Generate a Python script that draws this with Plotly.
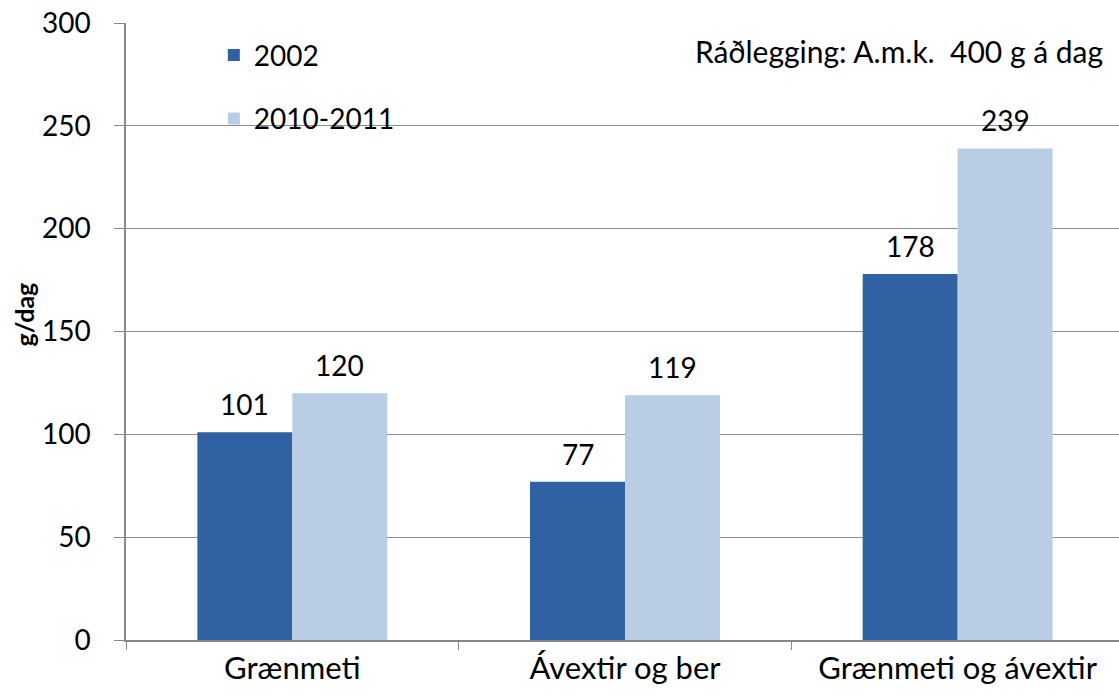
import plotly.graph_objects as go

categories = ["Grænmeti", "Ávextir og ber", "Grænmeti og ávextir"]
values_2002 = [101, 77, 178]
values_2010 = [120, 119, 239]
series_names = ["2002", "2010-2011"]
y_ticks = [0, 50, 100, 150, 200, 250, 300]

FONT = "Lato, 'Open Sans', sans-serif"

fig = go.Figure()
fig.add_trace(go.Bar(
    x=categories, y=values_2002, name=series_names[0],
    marker=dict(color="#2f61a3", line=dict(width=0)),
    offsetgroup="a", legendgroup="a",
))
fig.add_trace(go.Bar(
    x=categories, y=values_2010, name=series_names[1],
    marker=dict(color="#b9cde5", line=dict(width=0)),
    offsetgroup="b", legendgroup="b",
))

# data labels as annotations placed through the axis scales
annotations = []
for si, vals in enumerate([values_2002, values_2010]):
    for ci, v in enumerate(vals):
        annotations.append(dict(
            x=categories[ci], y=v, xref="x", yref="y",
            text=str(v), showarrow=False, yanchor="bottom",
            xshift=(si - 0.5) * 95, yshift=9,
            font=dict(size=28, color="black", family=FONT),
        ))
annotations.append(dict(
    text="Ráðlegging: A.m.k.  400 g á dag", x=0.981, y=0.955,
    xref="paper", yref="paper", xanchor="right", yanchor="middle",
    showarrow=False, font=dict(size=30),
))
# y-axis title
annotations.append(dict(
    text="<b>g/dag</b>", x=-0.102, y=0.528, xref="paper", yref="paper",
    xanchor="center", yanchor="middle", textangle=-90, showarrow=False,
    font=dict(size=25),
))

fig.update_layout(
    width=1124, height=699,
    margin=dict(l=126, r=0, t=23, b=59, autoexpand=False),
    paper_bgcolor="white", plot_bgcolor="white",
    barmode="group", bargap=0.429, bargroupgap=0,
    font=dict(family=FONT, size=28, color="black"),
    showlegend=True,
    legend=dict(x=0.088, y=0.988, xanchor="left", yanchor="top",
                bgcolor="rgba(0,0,0,0)", font=dict(size=28),
                traceorder="grouped", tracegroupgap=24,
                itemwidth=30),
    xaxis=dict(
        tickson="boundaries", ticks="outside", ticklen=8, tickcolor="#888",
        showline=True, linecolor="#888", linewidth=1.5,
        tickfont=dict(size=31), showgrid=False, automargin=False,
    ),
    yaxis=dict(
        range=[0, 300], tickvals=y_ticks, ticks="outside", ticklen=10,
        tickcolor="#888", showline=True, linecolor="#888", linewidth=1.5,
        showgrid=True, gridcolor="#8c8c8c", gridwidth=1,
        tickfont=dict(size=28), zeroline=False, automargin=False,
        ticklabelstandoff=18,
    ),
    annotations=annotations,
)

fig.write_html("out.html", config={"displayModeBar": False},
               post_script="document.body.style.margin='0';document.body.style.overflow='hidden';")
